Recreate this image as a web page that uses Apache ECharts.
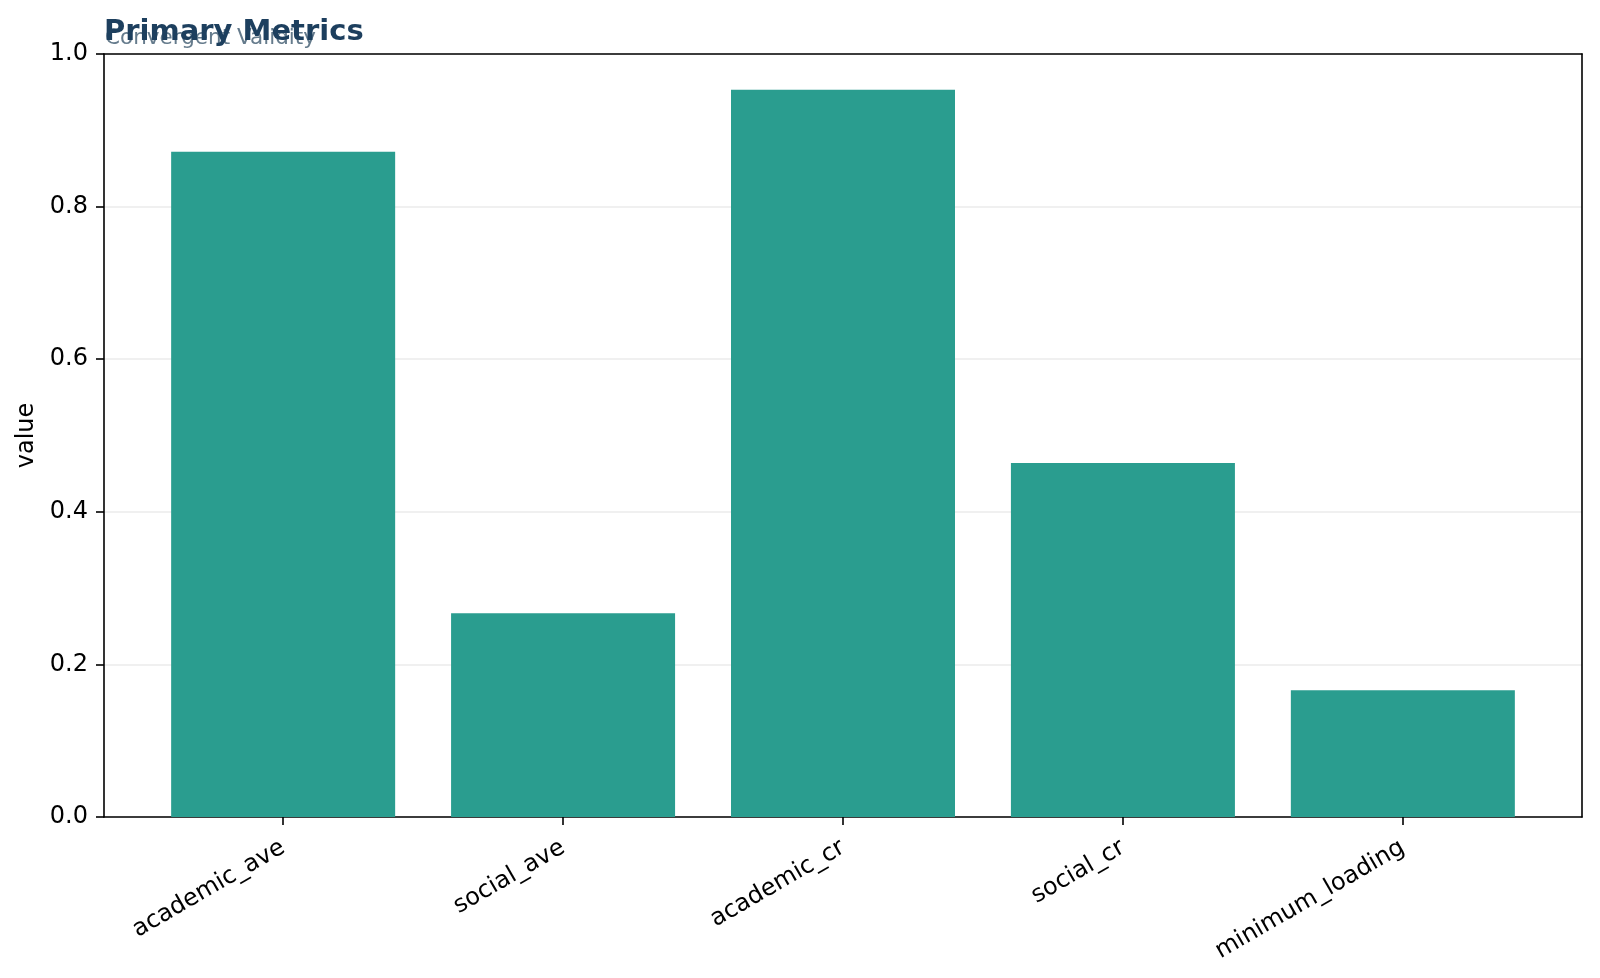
<!DOCTYPE html>
<html>
<head>
<meta charset="utf-8">
<script src="https://cdn.jsdelivr.net/npm/echarts@6/dist/echarts.min.js"></script>
<style>html,body{margin:0;padding:0;background:#fff}#c{width:1600px;height:978px}</style>
</head>
<body>
<div id="c"></div>
<script>
var categories = ['academic_ave', 'social_ave', 'academic_cr', 'social_cr', 'minimum_loading'];
var values = [0.872, 0.267, 0.953, 0.464, 0.166];
var yTicks = [0, 0.2, 0.4, 0.6, 0.8, 1.0];
var titleText = 'Primary Metrics';
var subtitleText = 'Convergent Validity';
var yName = 'value';

var FONT = 'DejaVu Sans';
var chart = echarts.init(document.getElementById('c'), null, {renderer: 'canvas'});
var xPositions = categories.map(function (c, i) { return i; });
var black = {color: '#000', width: 1.6};
chart.setOption({
  animation: false,
  backgroundColor: '#ffffff',
  title: [
    {text: subtitleText, left: 105, top: 27, padding: 0, textStyle: {fontFamily: FONT, fontSize: 21.5, fontWeight: 'normal', color: 'rgba(74,100,120,0.85)'}},
    {text: titleText, left: 104, top: 18, padding: 0, textStyle: {fontFamily: FONT, fontSize: 29, fontWeight: 'bold', color: '#1d3f5e'}}
  ],
  grid: {left: 104, right: 18, top: 54, bottom: 161, show: false},
  xAxis: [{
    type: 'value', min: -0.64, max: 4.64, position: 'bottom',
    axisLine: {show: true, onZero: false, lineStyle: black},
    axisTick: {show: true, customValues: xPositions, length: 8, lineStyle: black},
    axisLabel: {show: true, customValues: xPositions, rotate: 30, margin: 29, fontFamily: FONT, fontSize: 24, color: '#000',
      formatter: function (v) { return categories[Math.round(v)]; }},
    splitLine: {show: false}
  }, {
    type: 'value', min: -0.64, max: 4.64, position: 'top',
    axisLine: {show: true, onZero: false, lineStyle: black},
    axisTick: {show: false}, axisLabel: {show: false}, splitLine: {show: false}
  }],
  yAxis: [{
    type: 'value', min: 0, max: 1, interval: 0.2, position: 'left',
    name: yName, nameLocation: 'middle', nameGap: 57, nameRotate: 90,
    nameTextStyle: {fontFamily: FONT, fontSize: 24, color: '#000'},
    axisLine: {show: true, onZero: false, lineStyle: black},
    axisTick: {show: true, length: 8, lineStyle: black},
    axisLabel: {margin: 16, fontFamily: FONT, fontSize: 24, color: '#000', formatter: function (v) { return v.toFixed(1); }},
    splitLine: {show: true, lineStyle: {color: '#ebebeb', width: 1.5}}
  }, {
    type: 'value', min: 0, max: 1, interval: 0.2, position: 'right',
    axisLine: {show: true, onZero: false, lineStyle: black},
    axisTick: {show: false}, axisLabel: {show: false}, splitLine: {show: false}
  }],
  series: [{
    type: 'bar',
    xAxisIndex: 0, yAxisIndex: 0,
    data: categories.map(function (c, i) { return [i, values[i]]; }),
    barWidth: 224,
    itemStyle: {color: '#2a9d8f'},
    z: 3
  }]
});
</script>
</body>
</html>
